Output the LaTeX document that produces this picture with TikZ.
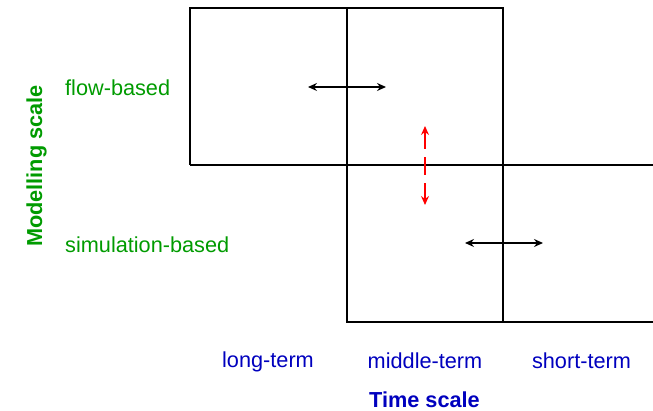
\documentclass[tikz,border=0pt]{standalone}
\usepackage{fontspec}
\setmainfont{Liberation Sans}
\usetikzlibrary{arrows.meta}
\definecolor{lblgreen}{RGB}{0,155,0}
\definecolor{lblblue}{RGB}{0,0,190}
\begin{document}
\begin{tikzpicture}[x=1pt,y=-1pt,
  gridline/.style={line width=2pt,black},
  harrow/.style={line width=2pt,black,{Stealth[length=9pt,width=8pt,inset=3pt]}-{Stealth[length=9pt,width=8pt,inset=3pt]}},
  varrow/.style={line width=2pt,red,dash pattern=on 18pt off 8pt,{Stealth[length=9pt,width=8pt,inset=3pt]}-{Stealth[length=9pt,width=8pt,inset=3pt]}},
  greenlbl/.style={text=lblgreen,font=\fontsize{21.7}{25}\selectfont,inner sep=0pt},
  bluelbl/.style={text=lblblue,font=\fontsize{21.7}{25}\selectfont,inner sep=0pt},
]
\useasboundingbox (0,0) rectangle (653,411);
% grid corners
\coordinate (tl) at (190,8);
\coordinate (tm) at (347,8);
\coordinate (tr) at (503,8);
\coordinate (ml) at (190,165);
\coordinate (mr) at (653,165);
\coordinate (bm) at (347,322);
\coordinate (br) at (503,322);
\coordinate (bx) at (653,322);
\draw[gridline] (ml) -- (tl) -- (tr) -- (br);
\draw[gridline] (ml) -- (mr);
\draw[gridline] (tm) -- (bm) -- (bx);
% arrows
\coordinate (a1) at (308,87);
\coordinate (a2) at (386,87);
\coordinate (b1) at (425,126);
\coordinate (b2) at (425,205);
\coordinate (c1) at (465,243);
\coordinate (c2) at (543,243);
\draw[harrow] (a1) -- (a2);
\draw[varrow] (b1) -- (b2);
\draw[harrow] (c1) -- (c2);
% labels
\node[greenlbl,anchor=base west] (flow) at (65,96) {flow-based};
\node[greenlbl,anchor=base west] (sim) at (65,253) {simulation-based};
\node[greenlbl,anchor=base,rotate=90,font=\fontsize{21.7}{25}\selectfont\bfseries] (mod) at (42,166) {Modelling scale};
\node[bluelbl,anchor=base] (long) at (268,367) {long-term};
\node[bluelbl,anchor=base] (mid) at (425,369) {middle-term};
\node[bluelbl,anchor=base] (short) at (581.5,369) {short-term};
\node[bluelbl,anchor=base,font=\fontsize{21.7}{25}\selectfont\bfseries] (time) at (424.5,407) {Time scale};
\end{tikzpicture}
\end{document}
